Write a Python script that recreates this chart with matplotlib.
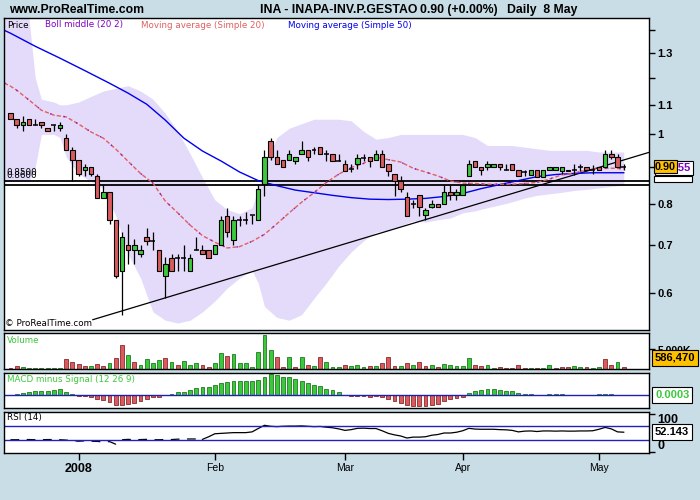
import matplotlib
matplotlib.use("Agg")
import matplotlib.pyplot as plt
from matplotlib.patches import Rectangle
from matplotlib.ticker import FixedLocator, FixedFormatter, NullFormatter

W, H = 700, 500


def fx(px):
    return px / W


def fy(py):
    return 1 - py / H


# ---------------- data ----------------
opens = [1.07, 1.05, 1.03, 1.05, 1.03, 1.04, 1.02, 1.03, 1.02, 0.99,
         0.95, 0.92, 0.893, 0.90, 0.875, 0.815, 0.83, 0.76, 0.645, 0.70,
         0.69, 0.68, 0.72, 0.71, 0.69, 0.635, 0.673, 0.673, 0.673, 0.645,
         0.69, 0.69, 0.69, 0.68, 0.70, 0.77, 0.712, 0.76, 0.76, 0.772,
         0.76, 0.853, 0.98, 0.93, 0.92, 0.92, 0.918, 0.94, 0.95, 0.95,
         0.96, 0.94, 0.94, 0.918, 0.91, 0.895, 0.91, 0.928, 0.93, 0.92,
         0.94, 0.91, 0.88, 0.862, 0.817, 0.80, 0.822, 0.771, 0.792, 0.80,
         0.80, 0.83, 0.822, 0.822, 0.874, 0.918, 0.90, 0.90, 0.90, 0.91,
         0.893, 0.91, 0.893, 0.885, 0.878, 0.893, 0.873, 0.893, 0.893, 0.888,
         0.893, 0.893, 0.90, 0.90, 0.893, 0.90, 0.90, 0.94, 0.93, 0.90]
highs = [1.07, 1.05, 1.06, 1.05, 1.05, 1.04, 1.02, 1.03, 1.04, 1.00,
         0.96, 0.92, 0.91, 0.90, 0.88, 0.85, 0.83, 0.76, 0.73, 0.75,
         0.715, 0.70, 0.74, 0.73, 0.69, 0.675, 0.68, 0.68, 0.70, 0.68,
         0.72, 0.70, 0.69, 0.70, 0.77, 0.79, 0.77, 0.77, 0.78, 0.772,
         0.85, 0.95, 0.99, 0.95, 0.92, 0.95, 0.93, 0.98, 0.95, 0.96,
         0.96, 0.95, 0.94, 0.94, 0.92, 0.91, 0.94, 0.94, 0.93, 0.95,
         0.95, 0.91, 0.88, 0.875, 0.83, 0.81, 0.822, 0.79, 0.81, 0.80,
         0.85, 0.85, 0.84, 0.85, 0.92, 0.918, 0.90, 0.918, 0.91, 0.91,
         0.91, 0.91, 0.893, 0.893, 0.893, 0.893, 0.893, 0.90, 0.90, 0.90,
         0.893, 0.91, 0.91, 0.90, 0.905, 0.90, 0.95, 0.95, 0.94, 0.91]
lows = [1.05, 1.02, 1.01, 1.03, 1.03, 1.02, 1.01, 1.01, 1.01, 0.95,
        0.86, 0.875, 0.875, 0.875, 0.815, 0.815, 0.75, 0.63, 0.56, 0.66,
        0.66, 0.675, 0.70, 0.69, 0.645, 0.59, 0.645, 0.645, 0.645, 0.645,
        0.69, 0.68, 0.673, 0.68, 0.70, 0.72, 0.70, 0.745, 0.75, 0.75,
        0.76, 0.82, 0.92, 0.91, 0.90, 0.92, 0.908, 0.94, 0.918, 0.94,
        0.94, 0.918, 0.918, 0.918, 0.89, 0.886, 0.895, 0.918, 0.90, 0.92,
        0.90, 0.875, 0.82, 0.83, 0.77, 0.79, 0.77, 0.76, 0.79, 0.792,
        0.80, 0.81, 0.81, 0.822, 0.874, 0.90, 0.878, 0.893, 0.90, 0.893,
        0.893, 0.893, 0.874, 0.874, 0.878, 0.873, 0.873, 0.893, 0.893, 0.88,
        0.888, 0.878, 0.888, 0.893, 0.88, 0.893, 0.90, 0.925, 0.90, 0.893]
closes = [1.05, 1.03, 1.04, 1.03, 1.03, 1.03, 1.01, 1.03, 1.03, 0.95,
          0.92, 0.88, 0.90, 0.88, 0.815, 0.83, 0.76, 0.635, 0.72, 0.69,
          0.70, 0.69, 0.71, 0.71, 0.645, 0.66, 0.645, 0.673, 0.673, 0.673,
          0.69, 0.68, 0.673, 0.70, 0.76, 0.73, 0.76, 0.76, 0.76, 0.772,
          0.84, 0.93, 0.93, 0.91, 0.90, 0.94, 0.93, 0.95, 0.93, 0.95,
          0.94, 0.94, 0.918, 0.918, 0.89, 0.895, 0.928, 0.928, 0.918, 0.94,
          0.90, 0.89, 0.862, 0.84, 0.77, 0.80, 0.792, 0.783, 0.80, 0.792,
          0.83, 0.822, 0.83, 0.85, 0.91, 0.90, 0.893, 0.91, 0.91, 0.90,
          0.893, 0.893, 0.874, 0.885, 0.893, 0.873, 0.893, 0.90, 0.90, 0.90,
          0.888, 0.893, 0.90, 0.893, 0.893, 0.893, 0.94, 0.93, 0.90, 0.90]

# moving averages (value read at the listed bar positions)
ma20_idx = [-1, 0, 1, 3, 5, 7, 9, 11, 13, 15, 17, 19, 21, 23, 25, 27, 29, 31, 33, 35,
            37, 39, 41, 43, 45, 47, 49, 51, 53, 55, 57, 59, 61, 63, 65, 67, 69,
            71, 73, 75, 77, 79, 81, 83, 85, 87, 89, 91, 93, 95, 97, 99]
ma20 = [1.18, 1.168, 1.153, 1.117, 1.081, 1.064, 1.058, 1.034, 1.008, 0.988, 0.954,
        0.917, 0.882, 0.855, 0.807, 0.777, 0.747, 0.722, 0.707, 0.694, 0.697, 0.709,
        0.725, 0.750, 0.777, 0.804, 0.829, 0.857, 0.880, 0.899, 0.911, 0.930, 0.922,
        0.915, 0.897, 0.886, 0.875, 0.861, 0.855, 0.854, 0.852, 0.852, 0.852, 0.854,
        0.857, 0.866, 0.878, 0.883, 0.892, 0.896, 0.897, 0.8955]
ma50_idx = [-1, 0, 4, 8, 12, 16, 19, 22, 25, 28, 31, 34, 37, 40, 43, 46, 49, 52, 55,
            58, 61, 64, 67, 70, 73, 76, 79, 82, 85, 88, 91, 94, 97, 99]
ma50 = [1.398, 1.385, 1.328, 1.278, 1.228, 1.179, 1.142, 1.102, 1.047, 0.988, 0.948,
        0.918, 0.886, 0.862, 0.848, 0.836, 0.829, 0.822, 0.816, 0.812, 0.811, 0.812,
        0.814, 0.819, 0.827, 0.840, 0.851, 0.862, 0.873, 0.879, 0.882, 0.884, 0.884,
        0.884]

# Bollinger bands (20, 2)
band_idx = [-1, 1, 3, 4, 5, 7, 8, 9, 11, 13, 15, 17, 19, 21, 23, 25, 27, 29, 31, 33,
            35, 37, 39, 40, 41, 43, 45, 47, 49, 51, 53, 55, 57, 59, 61, 63, 65, 67,
            69, 71, 73, 75, 77, 79, 81, 83, 85, 87, 89, 91, 93, 95, 97, 99]
band_upper = [1.62, 1.55, 1.45, 1.20, 1.12, 1.11, 1.10, 1.10, 1.11, 1.13, 1.15, 1.16,
              1.17, 1.15, 1.12, 1.07, 1.01, 0.94, 0.87, 0.81, 0.785, 0.775, 0.79, 0.84,
              0.90, 0.99, 1.02, 1.035, 1.05, 1.05, 1.05, 1.045, 1.01, 0.985, 0.99, 1.00,
              1.00, 1.00, 1.00, 1.00, 1.00, 0.99, 0.965, 0.965, 0.965, 0.96, 0.955, 0.95,
              0.95, 0.95, 0.95, 0.945, 0.945, 0.945]
band_lower = [0.86, 0.86, 0.86, 0.90, 1.00, 1.00, 0.99, 0.93, 0.88, 0.86, 0.84, 0.77,
              0.68, 0.63, 0.565, 0.55, 0.545, 0.55, 0.565, 0.585, 0.61, 0.63, 0.645,
              0.62, 0.575, 0.555, 0.55, 0.56, 0.59, 0.62, 0.655, 0.685, 0.71, 0.73,
              0.735, 0.745, 0.757, 0.754, 0.76, 0.764, 0.777, 0.782, 0.79, 0.797, 0.805,
              0.815, 0.822, 0.826, 0.830, 0.835, 0.838, 0.842, 0.846, 0.85]

# support lines and trend line
support_levels = [0.8600, 0.8500]
trend_idx = [13.3, 103.1]
trend_price = [0.551, 0.944]

# volume in millions, colours as drawn
volume = [0.34, 0.77, 0.51, 0.26, 0.26, 0.26, 0.26, 0.26, 0.26, 2.48,
          1.79, 1.28, 0.77, 0.77, 1.28, 0.77, 1.45, 2.82, 6.15, 3.59,
          1.79, 1.03, 2.48, 1.62, 2.31, 2.82, 1.71, 1.03, 1.97, 1.03,
          1.54, 1.03, 0.51, 1.54, 4.10, 3.33, 3.93, 1.54, 1.54, 0.51,
          4.36, 8.72, 4.87, 3.08, 0.51, 3.08, 0.51, 3.08, 1.03, 0.77,
          3.08, 1.71, 0.51, 0.51, 1.03, 0.77, 1.03, 0.51, 0.77, 0.77,
          1.54, 3.08, 0.77, 0.77, 1.54, 1.03, 1.71, 0.77, 1.03, 0.51,
          1.28, 1.03, 0.77, 0.77, 2.82, 1.03, 0.77, 1.03, 0.26, 0.51,
          0.26, 0.26, 1.03, 0.26, 0.26, 0.26, 0.26, 1.03, 0.26, 0.51,
          0.51, 0.77, 0.51, 0.51, 0.26, 0.51, 2.48, 1.03, 1.71, 0.58647]
volume_up = "rrgggggggrrrrgrrgrrgrggggrgrgggrrggrgggggggrrgrgrgrgggrgggrgrrrgrgrrgrgggggrrggrrrrrgrggrrrggrggrrg"

# MACD minus signal (12 26 9), in thousandths
macd_hist = [0.0, 1.7, 2.0, 3.3, 4.0, 4.0, 4.0, 5.0, 6.0, 3.7,
             1.7, -1.0, -1.0, -2.0, -3.3, -4.7, -7.0, -10.0, -9.3, -8.7,
             -8.0, -5.7, -3.3, -1.3, -1.3, 0.0, 1.3, 3.0, 3.3, 5.0,
             7.7, 8.0, 8.0, 10.7, 12.0, 13.0, 14.0, 14.0, 14.0, 14.0,
             15.7, 18.7, 21.3, 20.3, 18.7, 18.7, 16.7, 14.7, 12.7, 10.7,
             9.7, 6.7, 5.0, 3.0, 0.0, -1.0, -1.0, -1.0, -2.0, -1.0,
             -2.0, -3.3, -5.7, -7.7, -10.0, -10.7, -10.7, -10.7, -9.7, -9.0,
             -5.7, -4.0, -2.7, -1.3, 2.7, 4.3, 5.7, 6.3, 6.3, 5.3,
             4.3, 4.3, 2.0, 1.3, 1.3, 0.0, 0.0, 1.3, 1.3, 1.3,
             0.0, 0.0, 0.0, 0.0, 0.0, 1.3, 1.7, 1.3, 0.0, 0.3]

# RSI (14)
rsi = [32, 32, 32.5, 32.5, 32, 32, 32.5, 32.5, 32, 31,
       29.5, 28, 29, 28, 27.5, 26, 27, 20, 32, 33,
       32, 32.5, 33, 32, 32, 32.5, 32.5, 33.5, 34, 34,
       34, 33, 40, 48, 49, 50, 51, 51, 51, 53,
       62, 70.6, 68, 67, 68, 68.5, 68.5, 69, 68, 67,
       67.5, 65.5, 64, 61, 57, 59, 62.5, 63, 62, 62,
       56, 49, 45, 42, 36.6, 39, 39, 40, 44, 46,
       50, 50, 52, 56, 62.5, 60.5, 60, 60, 60, 59,
       58.5, 57, 53, 55, 55.5, 54, 55.5, 55.5, 55, 55.5,
       55, 55, 55.5, 55.5, 56, 60, 65, 61, 53, 52.143]

month_idx = [11, 33, 54, 73, 95]
month_labels = ["2008", "Feb", "Mar", "Apr", "May"]

# ---------------- style ----------------
BG = "#c9dde7"
GREEN = "#3cc83c"
GREEN_EDGE = "#1e7a1e"
RED = "#d95b5f"
RED_EDGE = "#8a2a2a"
BAND = "#e4dbfa"
SMALL = dict(family="DejaVu Sans", size=6.3)
BOLD = dict(family="Liberation Sans", weight="bold")

fig = plt.figure(figsize=(7, 5), dpi=100, facecolor=BG)

left, right = 4, 649
ax = fig.add_axes([fx(left), fy(330), fx(right - left), (330 - 18.3) / H])
ax_vol = fig.add_axes([fx(left), fy(369), fx(right - left), (369 - 333.3) / H])
ax_macd = fig.add_axes([fx(left), fy(407.7), fx(right - left), (407.7 - 372.7) / H])
ax_rsi = fig.add_axes([fx(left), fy(453.3), fx(right - left), (453.3 - 411.7) / H])

xlo, xhi = -1.04, 103.08
for a in (ax, ax_vol, ax_macd, ax_rsi):
    a.set_facecolor("white")
    a.set_xlim(xlo, xhi)
    for s in a.spines.values():
        s.set_color("black")
        s.set_linewidth(1.0)
    a.tick_params(axis="x", which="both", bottom=False, labelbottom=False)
    a.yaxis.tick_right()


def bold_right_labels(a):
    for t in a.yaxis.get_major_ticks():
        t.label2.set_fontfamily("Liberation Sans")
        t.label2.set_fontweight("bold")


# ---------------- price panel ----------------
ax.set_yscale("log")
ax.set_ylim(0.533, 1.453)
ax.fill_between(band_idx, band_lower, band_upper, color=BAND, lw=0, zorder=1)

for lvl in support_levels:
    ax.axhline(lvl, color="black", lw=1.3, zorder=2)

ax.plot(trend_idx, trend_price, color="black", lw=0.9, zorder=2)
ax.plot(ma50_idx, ma50, color="#0000ee", lw=1.0, zorder=2)
ax.plot(ma20_idx, ma20, color="#e06060", lw=1.0, ls=(0, (3, 1.5)), zorder=2)
ax.plot(ma20_idx, ma20, color="#8a1fd0", lw=1.0, ls=(0, (1, 9)), zorder=2)

for i, (o, h, l, c) in enumerate(zip(opens, highs, lows, closes)):
    ax.vlines(i, l, h, color="black", lw=0.9, zorder=3)
    if c > o:
        ax.bar(i, c - o, bottom=o, width=0.72, color=GREEN, edgecolor="black", lw=0.8, zorder=4)
    elif c < o:
        ax.bar(i, o - c, bottom=c, width=0.72, color=RED, edgecolor="black", lw=0.8, zorder=4)
    else:
        ax.hlines(o, i - 0.4, i + 0.4, color="black", lw=1.1, zorder=4)

ax.yaxis.set_major_locator(FixedLocator([0.6, 0.7, 0.8, 0.9, 1.0, 1.1, 1.3]))
ax.yaxis.set_major_formatter(FixedFormatter(["0.6", "0.7", "0.8", "0.9", "1", "1.1", "1.3"]))
ax.yaxis.set_minor_locator(FixedLocator([1.2, 1.4]))
ax.yaxis.set_minor_formatter(NullFormatter())
ax.tick_params(axis="y", which="both", direction="out", length=4, width=1, pad=2,
               labelsize=8)
bold_right_labels(ax)

# both level labels sit just above the upper line, almost on top of each other
for k, lvl in enumerate(support_levels):
    ax.annotate(f"{lvl:.4f}", xy=(-0.6, support_levels[0]), xytext=(0, 1.0 + 1.8 * k),
                textcoords="offset points", fontsize=6.3, family="DejaVu Sans",
                va="bottom", ha="left", zorder=5)

fig.text(fx(7), fy(25), "Price", color="black", va="center", **SMALL)
fig.text(fx(45), fy(25), "Boll middle (20 2)", color="#8000c0", va="center", **SMALL)
fig.text(fx(141), fy(25), "Moving average (Simple 20)", color="#e06060", va="center", **SMALL)
fig.text(fx(288), fy(25), "Moving average (Simple 50)", color="#0000ee", va="center", **SMALL)
fig.text(fx(5), fy(323.5), "© ProRealTime.com", color="black", va="center", **SMALL)

# ---------------- volume ----------------
vol_colors = [GREEN if u == "g" else RED for u in volume_up]
vol_edges = [GREEN_EDGE if u == "g" else RED_EDGE for u in volume_up]
ax_vol.bar(range(len(volume)), volume, width=0.62, color=vol_colors,
           edgecolor=vol_edges, lw=0.6)
ax_vol.set_ylim(0, 9.15)
ax_vol.yaxis.set_major_locator(FixedLocator([5]))
ax_vol.yaxis.set_major_formatter(FixedFormatter(["5,000K"]))
ax_vol.tick_params(axis="y", direction="out", length=4, width=1, pad=2, labelsize=7.5)
bold_right_labels(ax_vol)
fig.text(fx(7), fy(340.5), "Volume", color=GREEN, va="center", **SMALL)

# ---------------- MACD ----------------
macd_x = [i for i, v in enumerate(macd_hist) if v != 0]
macd_v = [macd_hist[i] / 1000 for i in macd_x]
ax_macd.bar(macd_x, macd_v, width=0.62,
            color=[GREEN if v > 0 else RED for v in macd_v],
            edgecolor=[GREEN_EDGE if v > 0 else RED_EDGE for v in macd_v], lw=0.6)
ax_macd.axhline(0, color="#2020b0", lw=1.0)
ax_macd.set_ylim(-0.0124, 0.0226)
ax_macd.set_yticks([])
fig.text(fx(7), fy(379.5), "MACD minus Signal (12 26 9)", color=GREEN, va="center", **SMALL)

# ---------------- RSI ----------------
ax_rsi.plot(range(32), rsi[:32], color="black", lw=0.9, ls=(0, (7, 6)))
ax_rsi.plot(range(31, len(rsi)), rsi[31:], color="black", lw=0.9)
for lvl in (30, 70):
    ax_rsi.axhline(lvl, color="#2020c0", lw=1.0)
ax_rsi.set_ylim(-4.3, 107)
ax_rsi.yaxis.set_major_locator(FixedLocator([0, 100]))
ax_rsi.yaxis.set_major_formatter(FixedFormatter(["0", "100"]))
ax_rsi.tick_params(axis="y", direction="out", length=4, width=1, pad=2, labelsize=9)
bold_right_labels(ax_rsi)
rsi_ticks = ax_rsi.yaxis.get_major_ticks()
rsi_ticks[0].label2.set_verticalalignment("bottom")
rsi_ticks[1].label2.set_verticalalignment("top")

ax_rsi.set_xticks(month_idx)
ax_rsi.set_xticklabels(month_labels)
ax_rsi.tick_params(axis="x", bottom=True, labelbottom=True, direction="out",
                   length=5, width=1, pad=2)
for k, lab in enumerate(ax_rsi.get_xticklabels()):
    lab.set_fontfamily("Liberation Sans")
    if k == 0:
        lab.set_fontweight("bold")
        lab.set_fontsize(9)
    else:
        lab.set_fontsize(7.5)
fig.text(fx(7), fy(417.5), "RSI (14)", color="black", va="center", **SMALL)

# ---------------- value boxes on the right ----------------
fig.patches.append(Rectangle((fx(654), fy(182)), fx(38), 6 / H, transform=fig.transFigure,
                             fc="white", ec="black", lw=0.8))
fig.text(fx(691), fy(168), f"{ma20[-1]:.4f}", color="#8000c0",
         ha="right", va="center", fontsize=8, **BOLD,
         bbox=dict(boxstyle="square,pad=0.2", fc="white", ec="black", lw=0.8))
fig.text(fx(655), fy(166.5), f"{closes[-1]:.2f}", color="black", ha="left", va="center",
         fontsize=7.8, **BOLD,
         bbox=dict(boxstyle="square,pad=0.1", fc="#ffc000", ec="black", lw=0.8))
fig.text(fx(655), fy(358), f"{round(volume[-1] * 1e6):,}", color="black", ha="left",
         va="center", fontsize=8, **BOLD,
         bbox=dict(boxstyle="square,pad=0.25", fc="#ffc000", ec="black", lw=0.8))
fig.text(fx(655), fy(395), f"{macd_hist[-1] / 1000:.4f}", color=GREEN, ha="left",
         va="center", fontsize=8, **BOLD,
         bbox=dict(boxstyle="square,pad=0.25", fc="white", ec="black", lw=0.8))
fig.text(fx(655), fy(432), f"{rsi[-1]:.3f}", color="black", ha="left", va="center",
         fontsize=8, **BOLD,
         bbox=dict(boxstyle="square,pad=0.25", fc="white", ec="black", lw=0.8))

# ---------------- header ----------------
fig.text(fx(9), fy(10), "www.ProRealTime.com", fontsize=8.8, va="center", **BOLD)
fig.text(fx(260), fy(10), "INA - INAPA-INV.P.GESTAO", fontsize=8.8, va="center", **BOLD)
fig.text(fx(420), fy(10), f"{closes[-1]:.2f} (+0.00%)", fontsize=8.8, va="center", **BOLD)
fig.text(fx(507), fy(10), "Daily  8 May", fontsize=8.8, va="center", **BOLD)

fig.savefig("out.png", dpi=100, facecolor=BG)
